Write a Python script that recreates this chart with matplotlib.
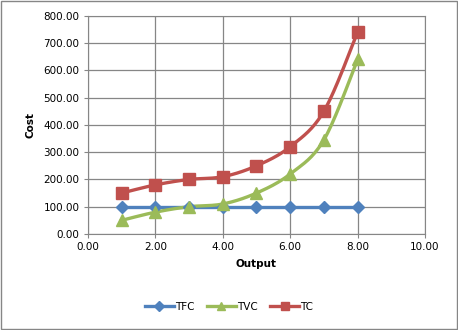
import numpy as np
import matplotlib
matplotlib.use("Agg")
import matplotlib.pyplot as plt
from matplotlib.lines import Line2D
from matplotlib.patches import Rectangle

output = [1, 2, 3, 4, 5, 6, 7, 8]
tfc = [100, 100, 100, 100, 100, 100, 100, 100]
tvc = [50, 80, 100, 110, 150, 220, 345, 640]
tc = [150, 180, 200, 210, 250, 320, 450, 740]

series = [
    ("TFC", tfc, "#4F81BD", "D", 6),
    ("TVC", tvc, "#9BBB59", "^", 8),
    ("TC", tc, "#C0504D", "s", 8),
]


def smooth(x, y, n=20):
    # catmull-rom style smoothing, like excel's "smoothed line"
    x = np.asarray(x, float)
    y = np.asarray(y, float)
    px = np.concatenate([[x[0]], x, [x[-1]]])
    py = np.concatenate([[y[0]], y, [y[-1]]])
    xs, ys = [], []
    t = np.linspace(0, 1, n)
    for i in range(1, len(px) - 2):
        p0, p1, p2, p3 = (np.array([px[j], py[j]]) for j in range(i - 1, i + 3))
        c1 = p1 + (p2 - p0) / 6
        c2 = p2 - (p3 - p1) / 6
        pts = ((1 - t) ** 3)[:, None] * p1 + (3 * (1 - t) ** 2 * t)[:, None] * c1 \
            + (3 * (1 - t) * t ** 2)[:, None] * c2 + (t ** 3)[:, None] * p2
        xs.extend(pts[:, 0])
        ys.extend(pts[:, 1])
    return xs, ys


plt.rcParams['font.family'] = ['DejaVu Sans']
fig = plt.figure(figsize=(4.58, 3.30), dpi=100)
fig.patches.append(Rectangle((0.002, 0.003), 0.995, 0.994, transform=fig.transFigure,
                             fill=False, edgecolor="#868686", linewidth=1))
ax = fig.add_axes([0.192, 0.291, 0.736, 0.661])

handles = []
for name, vals, col, mk, ms in series:
    sx, sy = smooth(output, vals)
    ax.plot(sx, sy, color=col, linewidth=2.4, zorder=3)
    ax.plot(output, vals, linestyle="none", marker=mk, markersize=ms, color=col, zorder=4)
    handles.append(Line2D([0], [0], color=col, linewidth=2.4, marker=mk, markersize=ms * 0.8))

ax.set_xlim(0, 10)
ax.set_ylim(0, 800)
ax.set_xticks(np.arange(0, 11, 2))
ax.set_yticks(np.arange(0, 801, 100))
ax.set_xticklabels([f"{v:.2f}" for v in np.arange(0, 11, 2)])
ax.set_yticklabels([f"{v:.2f}" for v in np.arange(0, 801, 100)])
ax.tick_params(labelsize=7.5, length=3, color="#868686", pad=3)
ax.grid(True, color="#868686", linewidth=0.9)
ax.set_axisbelow(True)
for s in ax.spines.values():
    s.set_color("#868686")
ax.set_xlabel("Output", fontsize=7.5, fontweight="bold", labelpad=5)
ax.set_ylabel("Cost", fontsize=7.5, fontweight="bold", labelpad=6)

fig.legend(handles, ["TFC", "TVC", "TC"], loc="center", bbox_to_anchor=(0.5, 0.07),
           ncol=3, frameon=False, fontsize=7.5, handlelength=2.8, columnspacing=1.2,
           handletextpad=0.1)

fig.savefig("out.png", dpi=100)
